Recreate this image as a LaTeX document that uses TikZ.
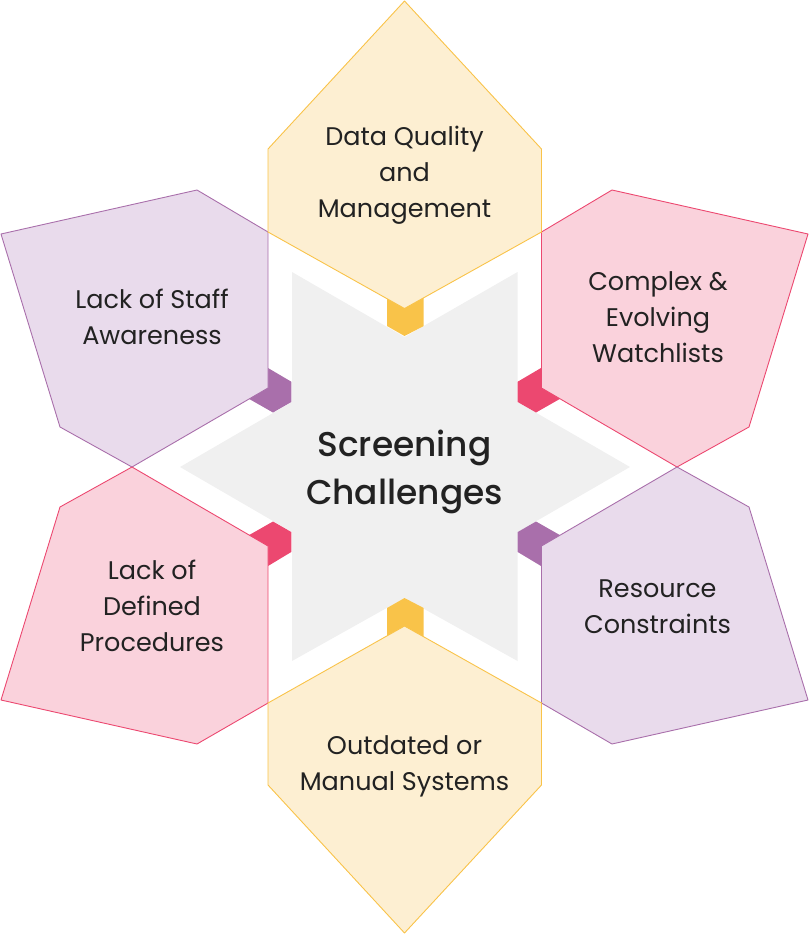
\documentclass[tikz,border=0pt]{standalone}
\usepackage{fontspec}
\setmainfont{Poppins}
\newfontfamily\medfont{Poppins Medium}
\definecolor{yfill}{HTML}{FDEFD2}
\definecolor{ystroke}{HTML}{F9C349}
\definecolor{pfill}{HTML}{FAD2DC}
\definecolor{pstroke}{HTML}{EC4870}
\definecolor{vfill}{HTML}{E9DBEC}
\definecolor{vstroke}{HTML}{A96FAB}
\definecolor{stargrey}{HTML}{F0F0F0}
\definecolor{ink}{HTML}{222222}
\tikzset{
  yellowpetal/.style={fill=yfill,draw=ystroke,line width=0.9pt,line join=round},
  pinkpetal/.style={fill=pfill,draw=pstroke,line width=0.9pt,line join=round},
  violetpetal/.style={fill=vfill,draw=vstroke,line width=0.9pt,line join=round},
  petaltext/.style={align=center,text=ink,inner sep=0pt,font=\fontsize{25.5}{36}\selectfont},
  centretext/.style={align=center,text=ink,inner sep=0pt,font=\medfont\fontsize{34.4}{48}\selectfont}
}
\begin{document}
\begin{tikzpicture}[x=1pt,y=-1pt]
\useasboundingbox (0,0) rectangle (809,934);
% star
\fill[stargrey] (292,272) -- (404.5,337) -- (517.5,272) -- (517.5,402) -- (630,467) -- (517.5,532) -- (517.5,661) -- (404.5,598) -- (292,661) -- (292,532) -- (180,467) -- (292,402) -- cycle;
% gems
\fill[ystroke] (404.5,336) -- (387,326) -- (387,295) -- (423.7,295) -- (423.7,326) -- cycle;
\fill[ystroke] (404.5,598) -- (387,608) -- (387,640) -- (423.7,640) -- (423.7,608) -- cycle;
\fill[pstroke] (517.7,381.7) -- (517.7,402) -- (536,412.5) -- (565,396) -- (541.5,367.7) -- cycle;
\fill[vstroke] (291.3,381.7) -- (291.3,402) -- (273,412.5) -- (244,396) -- (267.5,367.7) -- cycle;
\fill[vstroke] (517.7,552) -- (517.7,532) -- (536,521.5) -- (565,538) -- (541.5,566.3) -- cycle;
\fill[pstroke] (291.3,552) -- (291.3,532) -- (273,521.5) -- (244,538) -- (267.5,566.3) -- cycle;
% petals
\draw[pinkpetal] (541.5,232) -- (612,190) -- (808,234) -- (749,427) -- (677,467) -- (541.5,388) -- cycle;
\draw[violetpetal] (541.5,703) -- (612,744) -- (808,700) -- (749,507) -- (677,467) -- (541.5,546) -- cycle;
\draw[violetpetal] (268,232) -- (197,190) -- (1,234) -- (60,427) -- (132,467) -- (268,388) -- cycle;
\draw[pinkpetal] (268,703) -- (197,744) -- (1,700) -- (60,507) -- (132,467) -- (268,546) -- cycle;
\draw[yellowpetal] (404.5,1) -- (541.5,149) -- (541.5,232) -- (404.5,308.5) -- (268,232) -- (268,149) -- cycle;
\draw[yellowpetal] (404.5,933) -- (541.5,785) -- (541.5,703) -- (404.5,626) -- (268,703) -- (268,785) -- cycle;
% texts
\node[centretext] (centre) at (404.5,472) {Screening\\Challenges};
\node[petaltext] (quality) at (404.5,175) {Data Quality\\and\\Management};
\node[petaltext] (watch) at (658,317) {Complex \&\\Evolving\\Watchlists};
\node[petaltext] (resource) at (657.5,606.5) {Resource\\Constraints};
\node[petaltext] (outdated) at (404.5,766) {Outdated or\\Manual Systems};
\node[petaltext] (procedures) at (152,606) {Lack of\\Defined\\Procedures};
\node[petaltext] (staff) at (152,316.5) {Lack of Staff\\Awareness};
\end{tikzpicture}
\end{document}
